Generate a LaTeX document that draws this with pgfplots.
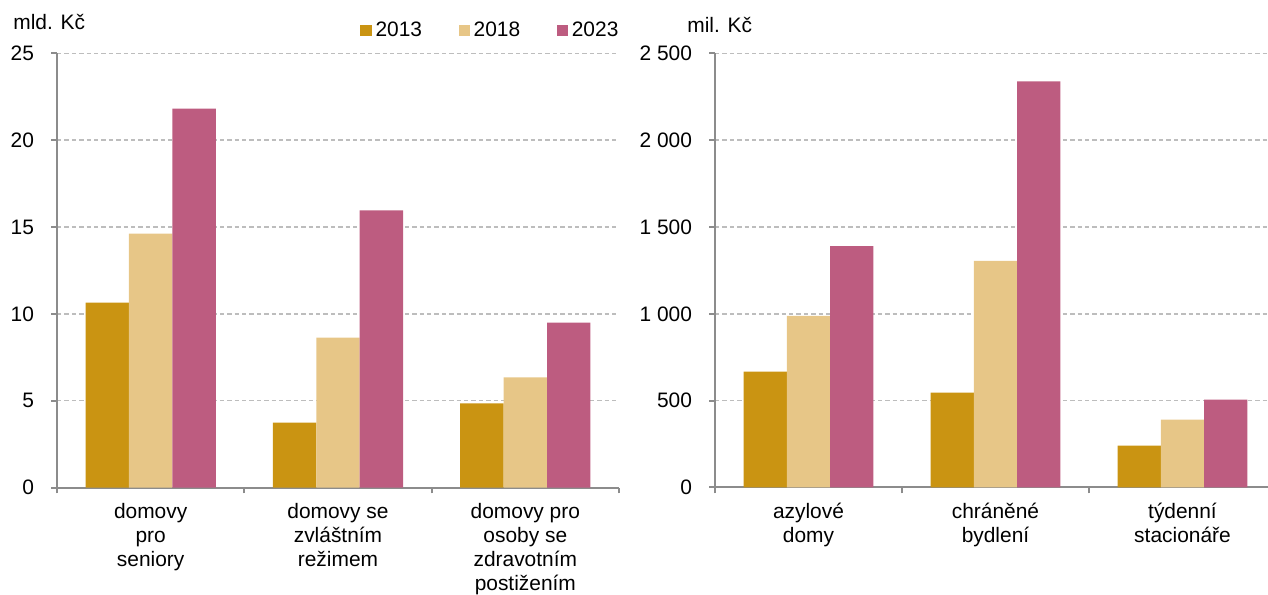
\documentclass[border=0pt]{standalone}
\usepackage{pgfplots}
\pgfplotsset{compat=1.18}
\usepackage{fontspec}
\setmainfont{Liberation Sans}
\definecolor{cA}{HTML}{CA9412}
\definecolor{cB}{HTML}{E7C687}
\definecolor{cC}{HTML}{BD5C80}
\definecolor{axisgray}{HTML}{8C8C8C}
\definecolor{gridgray}{HTML}{BDBDBD}
\pgfplotsset{
  mybars/.style={
    scale only axis, height=217bp,
    ybar=0pt, bar width=0.2317,
    ymin=0, xmin=-0.5, xmax=2.5,
    axis x line*=bottom, axis y line*=left,
    axis line style={axisgray, line width=1bp},
    tick style={axisgray, line width=1bp},
    tick align=outside, major tick length=3bp,
    ymajorgrids, grid style={gridgray, line width=0.8bp, dash pattern=on 2.2bp off 1.5bp},
    xtick={-0.5,0.5,1.5,2.5}, x tick label as interval,
    every tick label/.append style={font=\fontsize{10.5}{12}\selectfont, text=black},
    xticklabel style={align=center, anchor=north, yshift=-1.5bp},
    yticklabel style={xshift=-5bp},
    legend image code/.code={\fill[##1] (0bp,-2.8bp) rectangle (5.6bp,2.8bp);},
  }
}
\begin{document}
\begin{tikzpicture}
\path[use as bounding box] (0,0) rectangle (634bp,297.5bp);
\begin{axis}[mybars, at={(28.5bp,53.75bp)}, anchor=south west,
  width=281bp, ymax=25,
  ytick={0,5,10,15,20,25}, yticklabels={0,5,10,15,20,25},
  xticklabels={domovy\\pro\\seniory, domovy se\\zvláštním\\režimem, domovy pro\\osoby se\\zdravotním\\postižením},
  legend columns=3,
  legend style={at={(0.5391,1.0530)}, anchor=west, draw=none, fill=none, inner sep=0pt,
    font=\fontsize{10.5}{12}\selectfont,
    nodes={inner sep=0pt},
    /tikz/every odd column/.append style={column sep=2bp},
    /tikz/every even column/.append style={column sep=18.2bp}},
]
\addplot[fill=cA, draw=none, bar shift=-0.2317] coordinates {(0,10.65) (1,3.74) (2,4.84)};
\addplot[fill=cB, draw=none, bar shift=0] coordinates {(0,14.63) (1,8.64) (2,6.34)};
\addplot[fill=cC, draw=none, bar shift=0.2317] coordinates {(0,21.83) (1,15.96) (2,9.50)};
\legend{2013,2018,2023}
\end{axis}
\begin{axis}[mybars, at={(357.5bp,53.75bp)}, anchor=south west,
  width=280.5bp, ymax=2500,
  ytick={0,500,1000,1500,2000,2500}, yticklabels={0,500,1 000,1 500,2 000,2 500},
  xticklabels={azylové\\domy, chráněné\\bydlení, týdenní\\stacionáře},
]
\addplot[fill=cA, draw=none, bar shift=-0.2317] coordinates {(0,667) (1,546) (2,241)};
\addplot[fill=cB, draw=none, bar shift=0] coordinates {(0,989) (1,1305) (2,391)};
\addplot[fill=cC, draw=none, bar shift=0.2317] coordinates {(0,1391) (1,2339) (2,506)};
\end{axis}
\node[anchor=base west, inner sep=0pt, font=\fontsize{10.5}{12}\selectfont] at (6.5bp,282.5bp) {mld. Kč};
\node[anchor=base west, inner sep=0pt, font=\fontsize{10.5}{12}\selectfont] at (343.5bp,281bp) {mil. Kč};
\end{tikzpicture}
\end{document}
